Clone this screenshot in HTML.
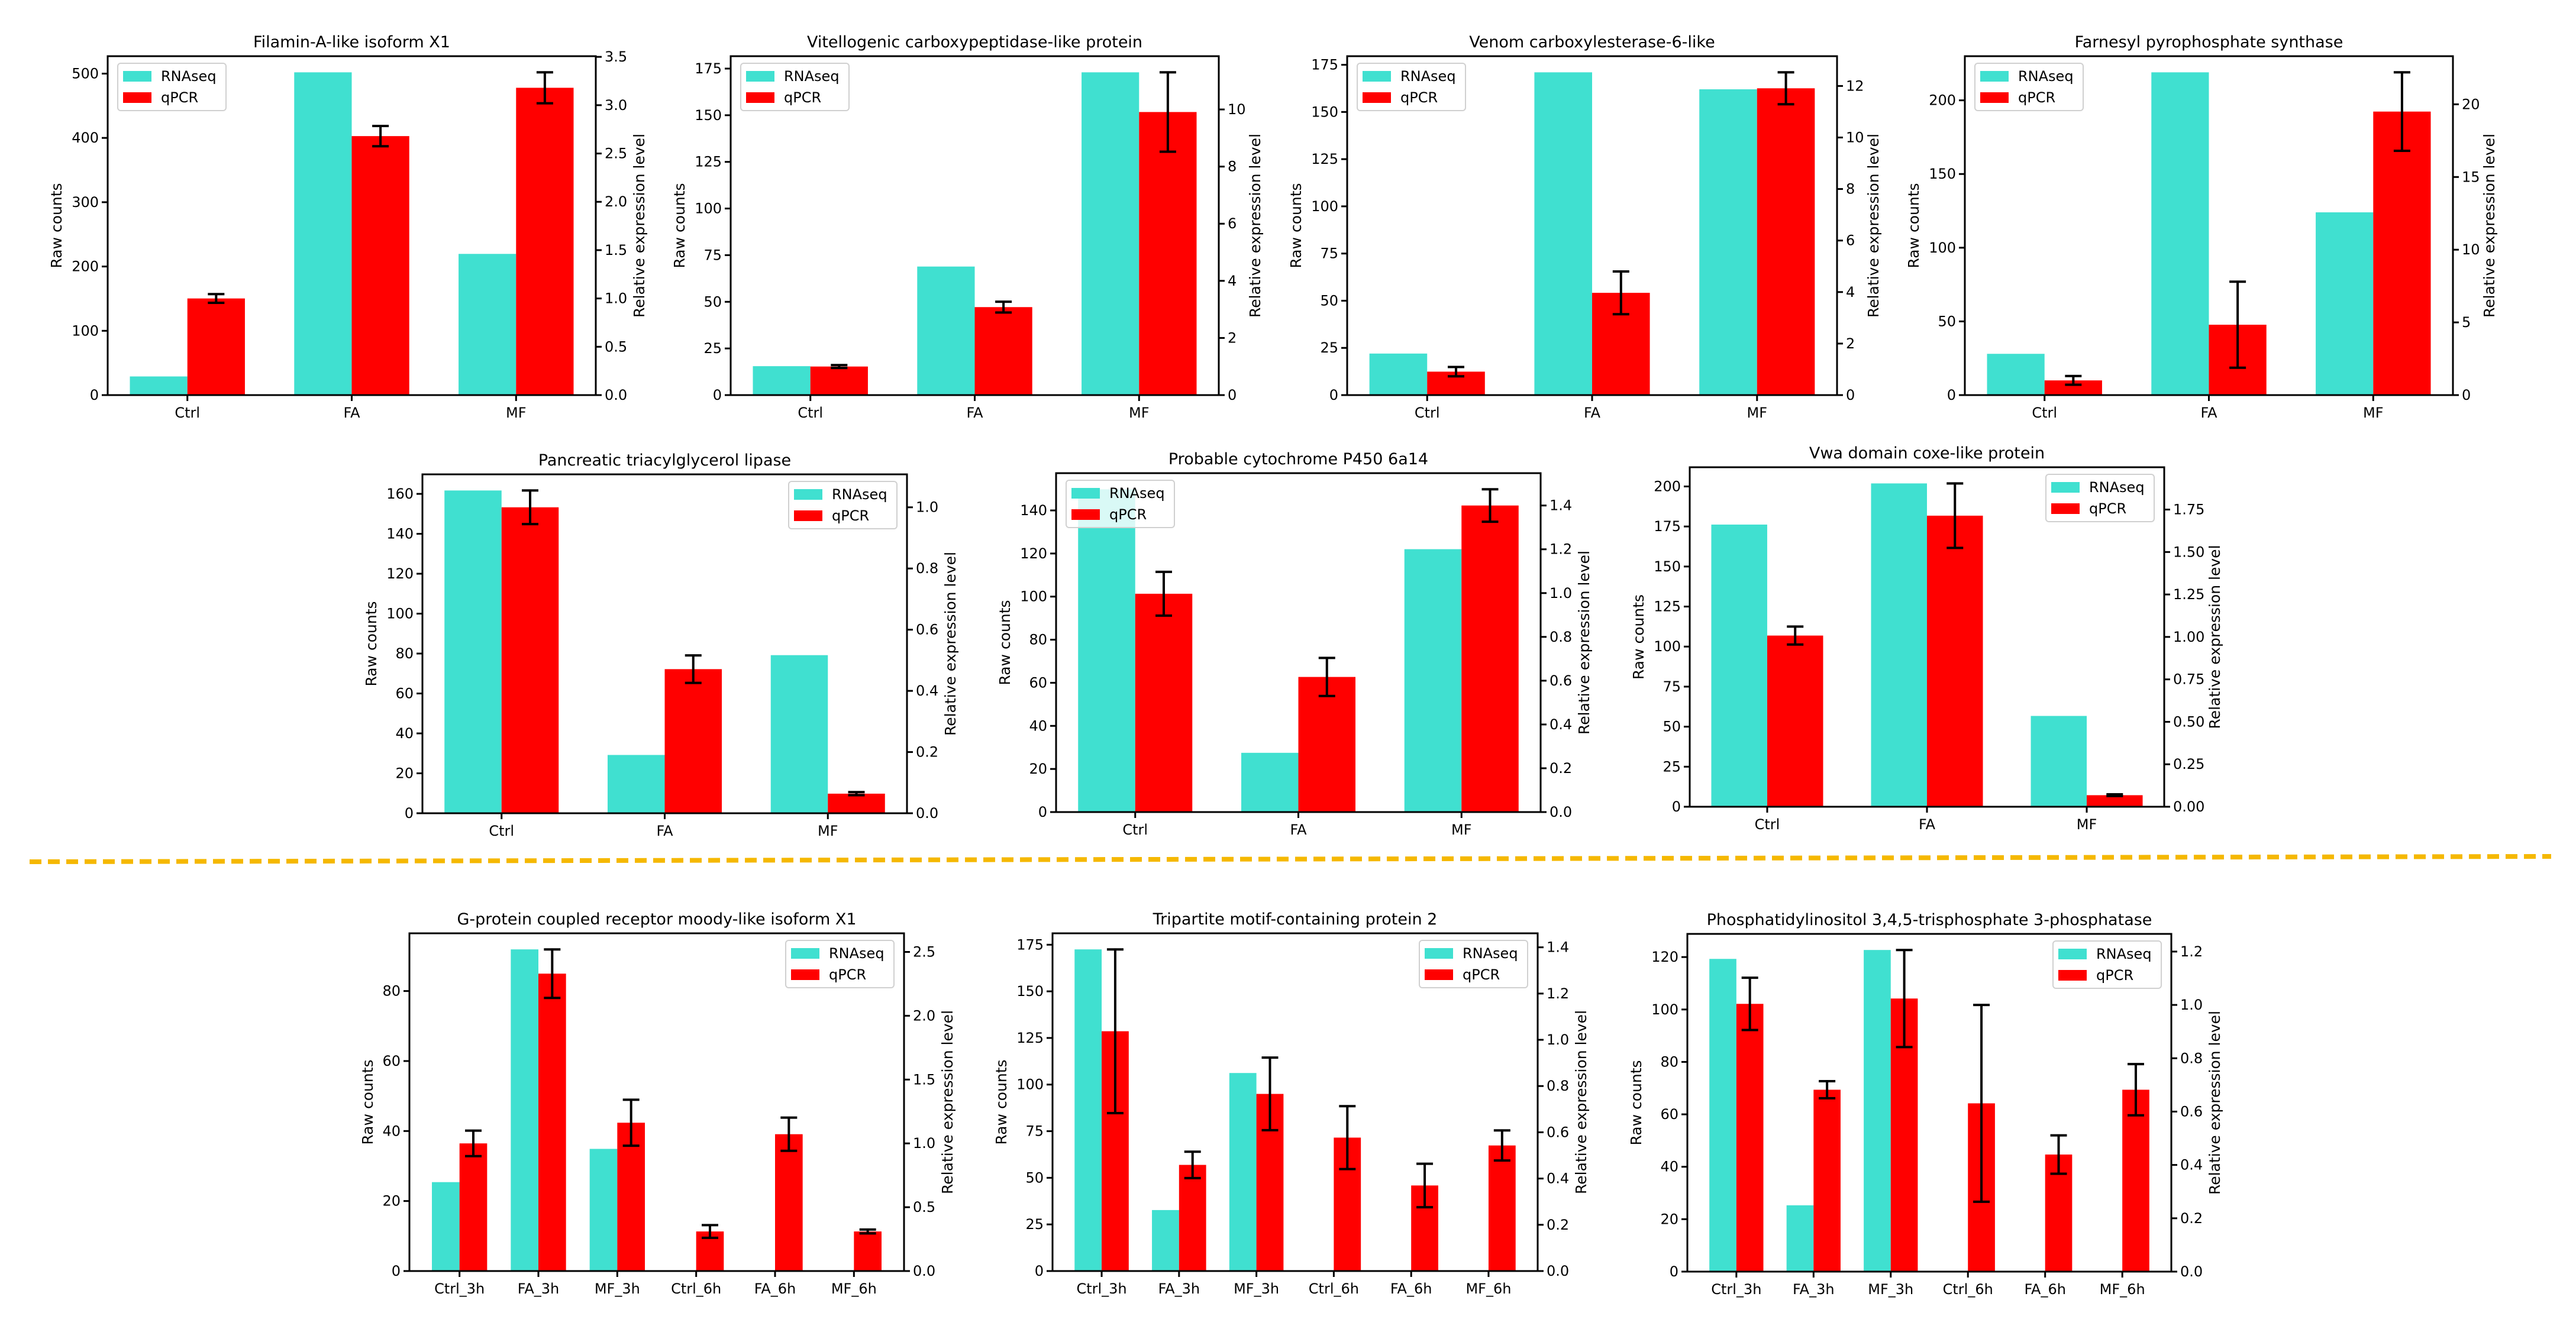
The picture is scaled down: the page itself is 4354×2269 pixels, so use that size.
<!DOCTYPE html>
<html><head><meta charset="utf-8">
<style>
html,body{margin:0;padding:0;background:#fff;}
svg{display:block;font-family:"DejaVu Sans","Liberation Sans",sans-serif;}
</style></head>
<body>
<svg id="fig" width="4354" height="2269" viewBox="0 0 4354 2269" xmlns="http://www.w3.org/2000/svg">
<rect x="0" y="0" width="4354" height="2269" fill="#fff"/>
<line x1="50" y1="1457" x2="4312" y2="1448" stroke="#F5B800" stroke-width="8" stroke-dasharray="20,11"/>
</svg>
<script>
// ---------- data ----------
const cats3 = ['Ctrl','FA','MF'];
const cats6 = ['Ctrl_3h','FA_3h','MF_3h','Ctrl_6h','FA_6h','MF_6h'];

const p1Rna = [29, 502, 219.6];
const p1Q = [1.0, 2.68, 3.18];
const p1E = [0.045, 0.105, 0.16];
const p1LT = ['0','100','200','300','400','500'];
const p1RT = ['0.0','0.5','1.0','1.5','2.0','2.5','3.0','3.5'];

const p2Rna = [15.5, 68.9, 173];
const p2Q = [1.0, 3.08, 9.91];
const p2E = [0.05, 0.19, 1.39];
const p2LT = ['0','25','50','75','100','125','150','175'];
const p2RT = ['0','2','4','6','8','10'];

const p3Rna = [22, 171, 162];
const p3Q = [0.91, 3.97, 11.91];
const p3E = [0.18, 0.83, 0.62];
const p3LT = ['0','25','50','75','100','125','150','175'];
const p3RT = ['0','2','4','6','8','10','12'];

const p4Rna = [28, 219, 124];
const p4Q = [1.01, 4.84, 19.5];
const p4E = [0.3, 2.96, 2.7];
const p4LT = ['0','50','100','150','200'];
const p4RT = ['0','5','10','15','20'];

const p5Rna = [161.7, 29.2, 79.2];
const p5Q = [1.0, 0.471, 0.064];
const p5E = [0.055, 0.045, 0.005];
const p5LT = ['0','20','40','60','80','100','120','140','160'];
const p5RT = ['0.0','0.2','0.4','0.6','0.8','1.0'];

const p6Rna = [149.8, 27.5, 122];
const p6Q = [0.997, 0.617, 1.4];
const p6E = [0.1, 0.087, 0.074];
const p6LT = ['0','20','40','60','80','100','120','140'];
const p6RT = ['0.0','0.2','0.4','0.6','0.8','1.0','1.2','1.4'];

const p7Rna = [176.2, 201.9, 56.7];
const p7Q = [1.008, 1.714, 0.068];
const p7E = [0.053, 0.19, 0.005];
const p7LT = ['0','25','50','75','100','125','150','175','200'];
const p7RT = ['0.00','0.25','0.50','0.75','1.00','1.25','1.50','1.75'];

const p8Rna = [25.4, 91.9, 34.9, 0, 0, 0];
const p8Q = [1.0, 2.33, 1.162, 0.31, 1.072, 0.31];
const p8E = [0.1, 0.19, 0.18, 0.05, 0.13, 0.015];
const p8LT = ['0','20','40','60','80'];
const p8RT = ['0.0','0.5','1.0','1.5','2.0','2.5'];

const p9Rna = [172.5, 32.7, 106.2, 0, 0, 0];
const p9Q = [1.037, 0.459, 0.766, 0.577, 0.37, 0.543];
const p9E = [0.354, 0.057, 0.157, 0.136, 0.094, 0.065];
const p9LT = ['0','25','50','75','100','125','150','175'];
const p9RT = ['0.0','0.2','0.4','0.6','0.8','1.0','1.2','1.4'];

const p10Rna = [119.3, 25.3, 122.7, 0, 0, 0];
const p10Q = [1.004, 0.682, 1.024, 0.631, 0.439, 0.682];
const p10E = [0.098, 0.032, 0.182, 0.369, 0.072, 0.096];
const p10LT = ['0','20','40','60','80','100','120'];
const p10RT = ['0.0','0.2','0.4','0.6','0.8','1.0','1.2'];

const titles = [
 'Filamin-A-like isoform X1','Vitellogenic carboxypeptidase-like protein','Venom carboxylesterase-6-like','Farnesyl pyrophosphate synthase',
 'Pancreatic triacylglycerol lipase','Probable cytochrome P450 6a14','Vwa domain coxe-like protein',
 'G-protein coupled receptor moody-like isoform X1','Tripartite motif-containing protein 2','Phosphatidylinositol 3,4,5-trisphosphate 3-phosphatase'
];

// ---------- layout (pixel boxes) ----------
const panels = [
 {cats:cats3, rna:p1Rna, q:p1Q, e:p1E, lt:p1LT, rt:p1RT, box:[182,95,1007,668], leg:'left'},
 {cats:cats3, rna:p2Rna, q:p2Q, e:p2E, lt:p2LT, rt:p2RT, box:[1235,95,2060,668], leg:'left'},
 {cats:cats3, rna:p3Rna, q:p3Q, e:p3E, lt:p3LT, rt:p3RT, box:[2277,95,3105,668], leg:'left'},
 {cats:cats3, rna:p4Rna, q:p4Q, e:p4E, lt:p4LT, rt:p4RT, box:[3321,95,4146,668], leg:'left'},
 {cats:cats3, rna:p5Rna, q:p5Q, e:p5E, lt:p5LT, rt:p5RT, box:[714,802,1533,1375], leg:'right'},
 {cats:cats3, rna:p6Rna, q:p6Q, e:p6E, lt:p6LT, rt:p6RT, box:[1785,800,2604,1373], leg:'left'},
 {cats:cats3, rna:p7Rna, q:p7Q, e:p7E, lt:p7LT, rt:p7RT, box:[2856,790,3658,1364], leg:'right'},
 {cats:cats6, rna:p8Rna, q:p8Q, e:p8E, lt:p8LT, rt:p8RT, box:[692,1578,1528,2149], leg:'right'},
 {cats:cats6, rna:p9Rna, q:p9Q, e:p9E, lt:p9LT, rt:p9RT, box:[1779,1578,2599,2149], leg:'right'},
 {cats:cats6, rna:p10Rna, q:p10Q, e:p10E, lt:p10LT, rt:p10RT, box:[2852,1579,3670,2150], leg:'right'}
];

const NS = 'http://www.w3.org/2000/svg';
const fig = document.getElementById('fig');
function mk(tag, attrs, parent){
  const el = document.createElementNS(NS, tag);
  for (const k in attrs) el.setAttribute(k, attrs[k]);
  (parent||fig).appendChild(el);
  return el;
}

panels.forEach((p, pi) => {
  const [L,T,R,B] = p.box;
  const g = mk('g', {});
  
  
  const n = p.cats.length;
  const bw = 0.35;
  const lo = -bw, hi = n-1+bw, m = (hi-lo)*0.05;
  const xmin = lo-m, xmax = hi+m;
  const xs = v => L + (v-xmin)/(xmax-xmin)*(R-L);
  const lmax = Math.max(...p.rna)*1.05;
  const rmax = Math.max(...p.q.map((v,i)=>v+p.e[i]))*1.05;
  const yl = v => B - v/lmax*(B-T);
  const yr = v => B - v/rmax*(B-T);

  p.rna.forEach((v,i) => {
    if (v <= 0) return;
    const r = mk('rect', {x:xs(i-bw), y:yl(v), width:xs(i)-xs(i-bw), height:B-yl(v), fill:'#40E0D0'}, g);
    
    
  });
  p.q.forEach((v,i) => {
    const r = mk('rect', {x:xs(i), y:yr(v), width:xs(i+bw)-xs(i), height:B-yr(v), fill:'#FF0000'}, g);
    
    
  });
  p.q.forEach((v,i) => {
    const cx = xs(i+bw/2), y1 = yr(v+p.e[i]), y2 = yr(Math.max(0,v-p.e[i]));
    const eg = mk('g', {stroke:'#000','stroke-width':4}, g);
    
    
    mk('line', {x1:cx, y1:y1, x2:cx, y2:y2}, eg);
    mk('line', {x1:cx-14, y1:y1, x2:cx+14, y2:y1}, eg);
    mk('line', {x1:cx-14, y1:y2, x2:cx+14, y2:y2}, eg);
  });
  const sp = mk('rect', {x:L, y:T, width:R-L, height:B-T, fill:'none', stroke:'#000', 'stroke-width':3}, g);
  
  

  p.cats.forEach((c,i) => {
    const x = xs(i);
    mk('line', {x1:x, y1:B, x2:x, y2:B+10, stroke:'#000', 'stroke-width':3}, g);
    const t = mk('text', {x:x, y:B+38, 'font-size':24, 'text-anchor':'middle', fill:'#000'}, g);
    t.textContent = c;
    
    
  });
  let lch = 0, rch = 0;
  p.lt.forEach(s => {
    const y = yl(parseFloat(s));
    if (y < T-2) return;
    lch = Math.max(lch, s.length);
    mk('line', {x1:L-10, y1:y, x2:L, y2:y, stroke:'#000', 'stroke-width':3}, g);
    const t = mk('text', {x:L-15, y:y+8, 'font-size':24, 'text-anchor':'end', fill:'#000'}, g);
    t.textContent = s;
    
    
  });
  p.rt.forEach(s => {
    const y = yr(parseFloat(s));
    if (y < T-2) return;
    rch = Math.max(rch, s.length);
    mk('line', {x1:R, y1:y, x2:R+10, y2:y, stroke:'#000', 'stroke-width':3}, g);
    const t = mk('text', {x:R+15, y:y+8, 'font-size':24, 'text-anchor':'start', fill:'#000'}, g);
    t.textContent = s;
    
    
  });
  const cy = (T+B)/2;
  const lt = mk('text', {x:0, y:0, 'font-size':25, 'text-anchor':'middle', fill:'#000', transform:`translate(${L-30-lch*16},${cy}) rotate(-90)`}, g);
  lt.textContent = 'Raw counts';
  
  
  const rtl = mk('text', {x:0, y:0, 'font-size':25, 'text-anchor':'middle', fill:'#000', transform:`translate(${R+46+rch*12},${cy}) rotate(-90)`}, g);
  rtl.textContent = 'Relative expression level';
  
  
  const tt = mk('text', {x:(L+R)/2, y:T-15, 'font-size':27, 'text-anchor':'middle', fill:'#000'}, g);
  tt.textContent = titles[pi];
  
  

  const lw = 183, lh = 80;
  const lx = p.leg === 'left' ? L+17 : R-17-lw;
  const ly = T+12;
  const lg = mk('g', {}, g);
  
  
  mk('rect', {x:lx, y:ly, width:lw, height:lh, rx:5, fill:'#fff', 'fill-opacity':0.8, stroke:'#d0d0d0', 'stroke-width':2}, lg);
  [['RNAseq','#40E0D0'],['qPCR','#FF0000']].forEach((it,k) => {
    const ry = ly + 22 + k*36;
    const pr = mk('rect', {x:lx+9, y:ry-9, width:48, height:18, fill:it[1]}, lg);
    
    
    const tx = mk('text', {x:lx+73, y:ry+8, 'font-size':24, fill:'#000'}, lg);
    tx.textContent = it[0];
    
    
  });
});
</script>
</body></html>
